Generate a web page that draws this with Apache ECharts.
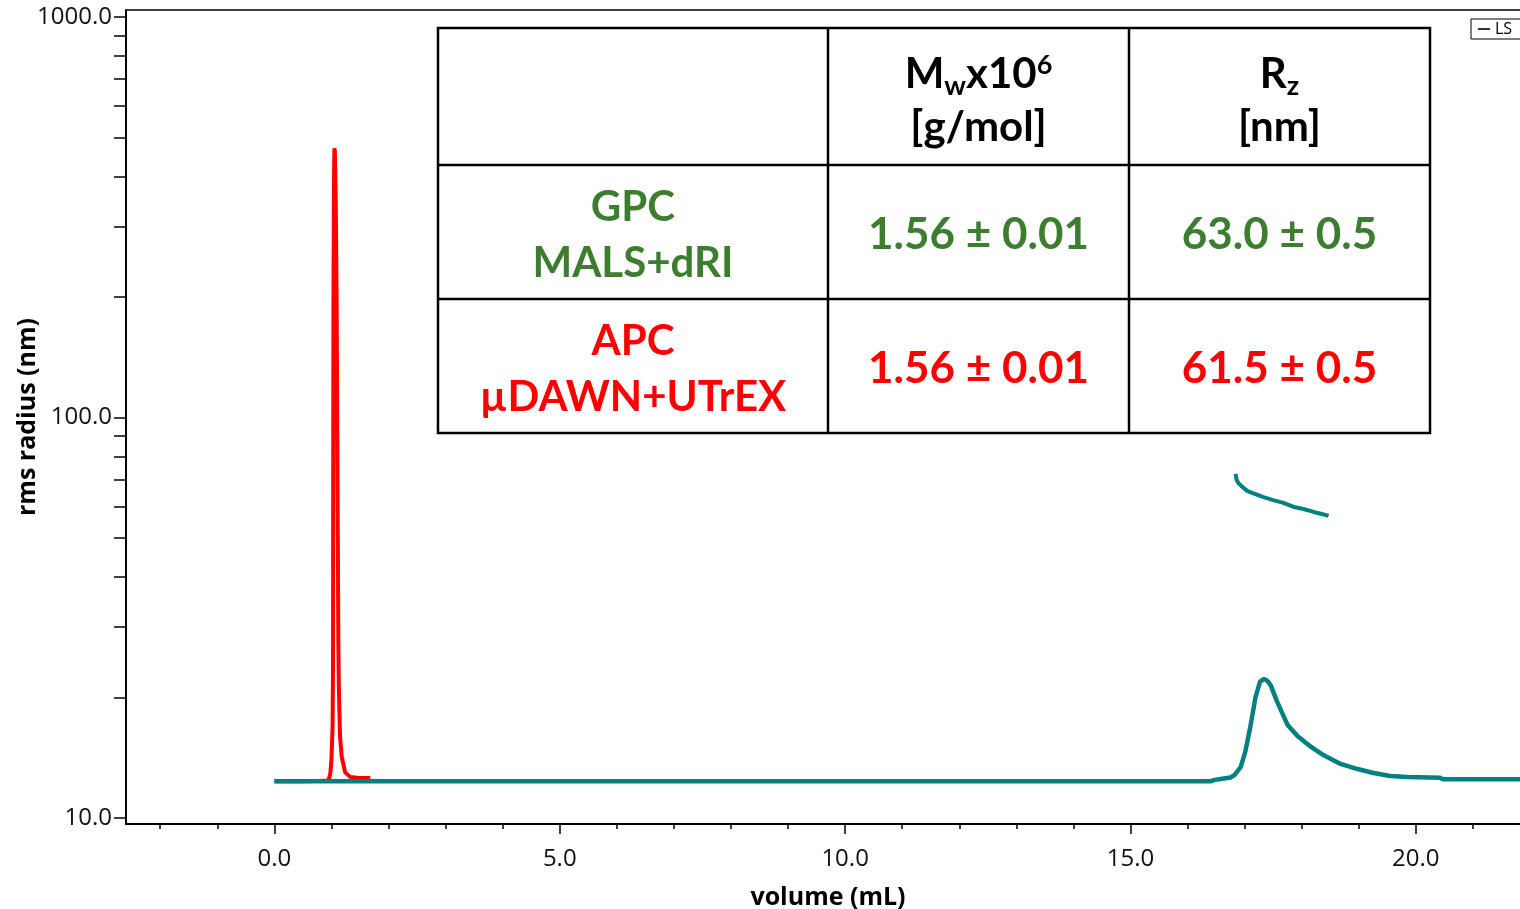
<!DOCTYPE html>
<html>
<head>
<meta charset="utf-8">
<title>rms radius vs volume</title>
<script src="https://cdn.jsdelivr.net/npm/echarts@6/dist/echarts.min.js"></script>
<style>
  html, body { margin: 0; padding: 0; background: #ffffff; }
  #chart { width: 1520px; height: 909px; }
</style>
</head>
<body>
<div id="chart"></div>
<script>
// ---- Data: [elution volume (mL), value] ----
// APC light-scattering trace (red)
const apcLs = [
  [0.00, 12.35], [0.50, 12.35], [0.90, 12.38], [0.95, 12.45], [0.98, 12.9],
  [1.00, 14.0], [1.02, 17.0], [1.028, 25.0], [1.030, 60.0], [1.035, 200.0],
  [1.045, 400.0], [1.052, 470.0], [1.060, 460.0], [1.075, 350.0], [1.090, 200.0],
  [1.100, 110.0], [1.108, 60.0], [1.115, 40.0], [1.120, 28.0], [1.130, 21.0],
  [1.150, 16.0], [1.180, 14.2], [1.240, 13.0], [1.330, 12.65], [1.450, 12.6],
  [1.680, 12.58]
];

// GPC light-scattering trace (teal)
const gpcLs = [
  [0.00, 12.35], [4.00, 12.35], [8.00, 12.35], [12.00, 12.35], [16.40, 12.35],
  [16.47, 12.45], [16.55, 12.5], [16.75, 12.62], [16.82, 12.8], [16.93, 13.4],
  [17.01, 14.6], [17.10, 16.9], [17.19, 20.0], [17.27, 21.9], [17.34, 22.25],
  [17.40, 22.0], [17.46, 21.4], [17.57, 19.5], [17.75, 17.1], [17.93, 16.0],
  [18.15, 15.1], [18.38, 14.36], [18.68, 13.65], [18.98, 13.25], [19.26, 12.95],
  [19.55, 12.73], [19.85, 12.66], [20.43, 12.6], [20.47, 12.5], [22.00, 12.5]
];

// GPC rms radius across the peak (teal)
const gpcRadius = [
  [16.84, 72.3], [16.86, 69.8], [16.89, 68.6], [16.96, 67.1], [17.05, 65.5],
  [17.19, 64.4], [17.33, 63.3], [17.50, 62.2], [17.68, 61.2], [17.86, 59.8],
  [18.03, 59.1], [18.21, 58.1], [18.42, 57.1], [18.47, 56.8]
];

// ---- Axis ticks ----
const xLabelValues = [0, 5, 10, 15, 20];
const xMinorTickValues = [-2, -1, 0, 1, 2, 3, 4, 5, 6, 7, 8, 9, 10, 11, 12, 13, 14, 15, 16, 17, 18, 19, 20, 21];
const yLabelValues = [10, 100, 1000];
const yTickValues = [10, 20, 30, 40, 50, 60, 70, 80, 90, 100, 200, 300, 400, 500, 600, 700, 800, 900, 1000];

// ---- Summary table ----
const methodLines = [['GPC', 'MALS+dRI'], ['APC', 'µDAWN+UTrEX']];
const mwValues = ['1.56 ± 0.01', '1.56 ± 0.01'];
const rzValues = ['63.0 ± 0.5', '61.5 ± 0.5'];

const GREEN = '#3c7d30';
const RED = '#ff0000';
const TEAL = '#008080';
const methodColors = [GREEN, RED];

const chart = echarts.init(document.getElementById('chart'), null, { renderer: 'canvas' });

// text measuring for the composed header labels
const measureCtx = document.createElement('canvas').getContext('2d');
function textWidth(text, font) {
  measureCtx.font = font;
  return measureCtx.measureText(text).width;
}

const TABLE_FONT = 'Lato';
function fontOf(size) { return 'bold ' + size + 'px ' + TABLE_FONT; }

function centeredText(text, cx, cy, size, color) {
  return {
    type: 'text', z: 101, x: cx, y: cy,
    style: {
      text: text, font: fontOf(size), fill: color,
      align: 'center', verticalAlign: 'middle',
      textAlign: 'center', textVerticalAlign: 'middle'
    }
  };
}

// a run of fragments (with sub/superscripts) centred on cx
function composedText(frags, cx, cy, color) {
  const widths = frags.map(f => textWidth(f.t, fontOf(f.s)));
  const total = widths.reduce((a, b) => a + b, 0);
  let x = cx - total / 2;
  const out = [];
  frags.forEach((f, i) => {
    out.push({
      type: 'text', z: 101, x: x, y: cy + (f.dy || 0),
      style: {
        text: f.t, font: fontOf(f.s), fill: color,
        align: 'left', verticalAlign: 'middle',
        textAlign: 'left', textVerticalAlign: 'middle'
      }
    });
    x += widths[i];
  });
  return out;
}

function buildTable() {
  const cols = [438, 828, 1129, 1430];
  const rows = [28, 165, 299, 433];
  const els = [];
  // white background and cell borders
  els.push({
    type: 'rect', z: 100,
    shape: { x: cols[0], y: rows[0], width: cols[3] - cols[0], height: rows[3] - rows[0] },
    style: { fill: '#ffffff', stroke: '#000000', lineWidth: 2.5 }
  });
  [cols[1], cols[2]].forEach(x => els.push({
    type: 'line', z: 100,
    shape: { x1: x, y1: rows[0], x2: x, y2: rows[3] },
    style: { stroke: '#000000', lineWidth: 2.5 }
  }));
  [rows[1], rows[2]].forEach(y => els.push({
    type: 'line', z: 100,
    shape: { x1: cols[0], y1: y, x2: cols[3], y2: y },
    style: { stroke: '#000000', lineWidth: 2.5 }
  }));

  const c1 = (cols[0] + cols[1]) / 2;
  const c2 = (cols[1] + cols[2]) / 2;
  const c3 = (cols[2] + cols[3]) / 2;

  // header
  const H = 42, S = 27;
  els.push(...composedText([
    { t: 'M', s: H }, { t: 'w', s: S, dy: 12 }, { t: 'x10', s: H }, { t: '6', s: S, dy: -9 }
  ], c2, 74, '#000000'));
  els.push(centeredText('[g/mol]', c2, 127, H, '#000000'));
  els.push(...composedText([
    { t: 'R', s: H }, { t: 'z', s: S, dy: 12 }
  ], c3, 74, '#000000'));
  els.push(centeredText('[nm]', c3, 127, H, '#000000'));

  // body rows
  const B = 42, V = 44;
  methodLines.forEach((lines, i) => {
    const top = rows[i + 1], bottom = rows[i + 2];
    const mid = (top + bottom) / 2;
    const color = methodColors[i];
    els.push(centeredText(lines[0], c1, mid - 25, B, color));
    els.push(centeredText(lines[1], c1, mid + 31, B, color));
    els.push(centeredText(mwValues[i], c2, mid + 3, V, color));
    els.push(centeredText(rzValues[i], c3, mid + 3, V, color));
  });
  return els;
}

const X_MIN = -2.6, X_MAX = 22.0;
const Y_MIN = 9.661, Y_MAX = 1041;

const axisFont = 'Open Sans';

const option = {
  animation: false,
  backgroundColor: '#ffffff',
  textStyle: { fontFamily: axisFont },
  grid: { left: 126, top: 10, right: -10, bottom: 85, containLabel: false, outerBoundsMode: 'none' },
  legend: {
    data: [{ name: 'LS' }],
    left: 1471, top: 19,
    orient: 'horizontal',
    selectedMode: false,
    backgroundColor: '#ffffff',
    borderColor: '#000000', borderWidth: 1,
    padding: [2, 14, 2, 7],
    icon: 'rect', itemWidth: 12, itemHeight: 1.6,
    textStyle: { fontSize: 16, color: '#000000', fontFamily: axisFont }
  },
  xAxis: [
    {
      type: 'value', position: 'bottom', min: X_MIN, max: X_MAX,
      axisLine: { show: true, onZero: false, lineStyle: { color: '#000000', width: 2 } },
      axisTick: { show: true, customValues: xLabelValues, length: 10, lineStyle: { color: '#000000', width: 1.5 } },
      axisLabel: {
        customValues: xLabelValues, formatter: v => Number(v).toFixed(1),
        fontSize: 24, color: '#111111', margin: 23
      },
      splitLine: { show: false },
      name: 'volume (mL)', nameLocation: 'middle', nameGap: 61, nameMoveOverlap: false,
      nameTextStyle: { fontSize: 25, fontWeight: 'bold', color: '#000000', fontFamily: axisFont }
    },
    {
      type: 'value', position: 'bottom', min: X_MIN, max: X_MAX,
      axisLine: { show: false },
      axisTick: { show: true, customValues: xMinorTickValues, length: 5, lineStyle: { color: '#000000', width: 1.5 } },
      axisLabel: { show: false },
      splitLine: { show: false }
    },
    {
      type: 'value', position: 'top', min: X_MIN, max: X_MAX,
      axisLine: { show: true, onZero: false, lineStyle: { color: '#000000', width: 1.5 } },
      axisTick: { show: false },
      axisLabel: { show: false },
      splitLine: { show: false }
    }
  ],
  yAxis: {
    type: 'log', logBase: 10, min: Y_MIN, max: Y_MAX,
    axisLine: { show: true, onZero: false, lineStyle: { color: '#000000', width: 2 } },
    axisTick: { show: true, customValues: yTickValues, length: 12, lineStyle: { color: '#000000', width: 1.5 } },
    axisLabel: {
      customValues: yLabelValues, formatter: v => Number(v).toFixed(1),
      fontSize: 24, color: '#111111', margin: 14
    },
    splitLine: { show: false },
    minorTick: { show: false },
    name: 'rms radius (nm)', nameLocation: 'middle', nameGap: 86, nameRotate: 90, nameMoveOverlap: false,
    nameTextStyle: { fontSize: 25, fontWeight: 'bold', color: '#000000', fontFamily: axisFont }
  },
  series: [
    {
      name: 'APC LS', type: 'line', data: apcLs, xAxisIndex: 0, yAxisIndex: 0,
      showSymbol: false, symbol: 'none', z: 2,
      lineStyle: { color: RED, width: 4 }, itemStyle: { color: RED }
    },
    {
      name: 'GPC LS', type: 'line', data: gpcLs, xAxisIndex: 0, yAxisIndex: 0,
      showSymbol: false, symbol: 'none', z: 3,
      lineStyle: { color: TEAL, width: 4.5 }, itemStyle: { color: TEAL }
    },
    {
      name: 'GPC radius', type: 'line', data: gpcRadius, xAxisIndex: 0, yAxisIndex: 0,
      showSymbol: false, symbol: 'none', z: 3,
      lineStyle: { color: TEAL, width: 4 }, itemStyle: { color: TEAL }
    },
    {
      name: 'LS', type: 'line', data: [], symbol: 'none',
      lineStyle: { color: '#000000', width: 1.5 }, itemStyle: { color: '#000000' }
    }
  ],
  graphic: buildTable()
};

chart.setOption(option);
</script>
</body>
</html>
